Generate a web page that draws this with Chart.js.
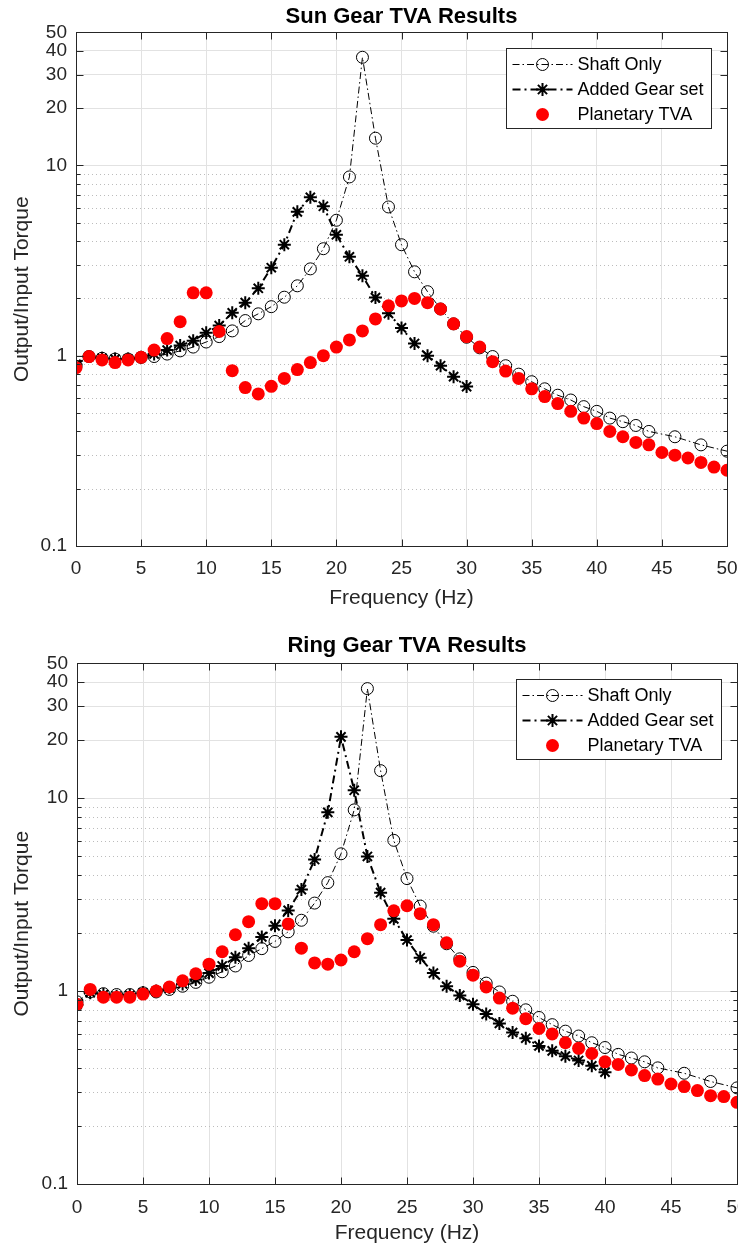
<!DOCTYPE html>
<html>
<head>
<meta charset="utf-8">
<script src="https://cdn.jsdelivr.net/npm/chart.js@4.4.1/dist/chart.umd.min.js"></script>
<style>
  html, body { margin: 0; padding: 0; background: #fff; overflow: hidden; width: 738px; height: 1247px; }
  canvas { position: absolute; left: 0; }
  #sunChart { top: 0; }
  #ringChart { top: 620px; }
</style>
</head>
<body>
<canvas id="sunChart" width="760" height="620"></canvas>
<canvas id="ringChart" width="760" height="627"></canvas>
<script>
// frequencies (Hz)
const shaftFreq = [0,1,2,3,4,5,6,7,8,9,10,11,12,13,14,15,16,17,18,19,20,21,22,23,24,25,26,27,28,29,
  30,31,32,33,34,35,36,37,38,39,40,41,42,43,44,46,48,50];
const planetaryFreq = [0,1,2,3,4,5,6,7,8,9,10,11,12,13,14,15,16,17,18,19,20,21,22,23,24,25,26,27,28,29,
  30,31,32,33,34,35,36,37,38,39,40,41,42,43,44,45,46,47,48,49,50];
const sunAddedFreq = [0,1,2,3,4,5,6,7,8,9,10,11,12,13,14,15,16,17,18,19,20,21,22,23,24,25,26,27,28,29,30];
const ringAddedFreq = [0,1,2,3,4,5,6,7,8,9,10,11,12,13,14,15,16,17,18,19,20,21,22,23,24,25,26,27,28,29,
  30,31,32,33,34,35,36,37,38,39,40];

// output/input torque
const shaftOnly = [0.88,0.99,0.97,0.96,0.96,0.98,0.99,1.02,1.06,1.11,
  1.18,1.26,1.35,1.53,1.66,1.81,2.03,2.33,2.86,3.65,
  5.15,8.7,37,13.9,6.05,3.83,2.76,2.17,1.76,1.47,
  1.25,1.10,0.99,0.886,0.80,0.73,0.67,0.62,0.585,0.54,
  0.51,0.47,0.45,0.43,0.40,0.375,0.34,0.315];
const sunAdded = [0.9,0.99,0.97,0.96,0.96,0.98,1.02,1.07,1.13,1.20,
  1.32,1.44,1.68,1.9,2.26,2.9,3.83,5.7,6.8,6.1,
  4.32,3.31,2.63,2.02,1.67,1.40,1.16,1.0,0.886,0.776,0.688];
const sunPlanetary = [0.865,0.99,0.95,0.92,0.95,0.98,1.07,1.23,1.51,2.14,
  2.14,1.34,0.834,0.68,0.63,0.69,0.76,0.845,0.92,1.0,
  1.11,1.21,1.35,1.56,1.83,1.94,2.0,1.9,1.76,1.47,
  1.26,1.11,0.93,0.83,0.76,0.67,0.61,0.56,0.51,0.47,
  0.44,0.40,0.375,0.35,0.34,0.31,0.30,0.29,0.275,0.26,0.25];
const ringAdded = [0.85,0.98,0.96,0.94,0.95,0.98,1.0,1.04,1.09,1.15,
  1.24,1.35,1.50,1.67,1.91,2.18,2.62,3.36,4.81,8.45,
  20.8,11.0,4.99,3.24,2.37,1.84,1.49,1.24,1.06,0.95,
  0.855,0.76,0.68,0.61,0.57,0.52,0.49,0.46,0.437,0.41,0.38];
const ringPlanetary = [0.855,1.02,0.93,0.93,0.93,0.965,1.0,1.05,1.13,1.23,
  1.38,1.6,1.96,2.29,2.84,2.84,2.23,1.67,1.40,1.38,
  1.45,1.6,1.87,2.21,2.61,2.77,2.52,2.21,1.78,1.43,
  1.21,1.05,0.92,0.815,0.72,0.64,0.60,0.54,0.505,0.475,
  0.43,0.417,0.39,0.365,0.35,0.33,0.32,0.305,0.287,0.284,0.265];

const seriesNames = ['Shaft Only', 'Added Gear set', 'Planetary TVA'];
const xTicks = [0,5,10,15,20,25,30,35,40,45,50];
const yMajorTicks = [0.1,1,10,20,30,40,50];
const yTickLabels = ['0.1','1','10','20','30','40','50'];
const yMinorTicks = [0.2,0.3,0.4,0.5,0.6,0.7,0.8,0.9,2,3,4,5,6,7,8,9];

const FONT = "'Liberation Sans', Arial, Helvetica, sans-serif";
const AXIS = '#262626';

function toPoints(xs, ys) {
  return xs.map((x, i) => ({ x: x, y: ys[i] }));
}

// matlab-ish box, inward ticks, minor grid and legend inside the axes
const matlabAxes = {
  id: 'matlabAxes',
  beforeDatasetsDraw(chart) {
    const { ctx, chartArea: a, scales: { y } } = chart;
    ctx.save();
    ctx.strokeStyle = '#bcbcbc';
    ctx.lineWidth = 1;
    ctx.setLineDash([1, 3]);
    yMinorTicks.forEach(v => {
      const py = Math.round(y.getPixelForValue(v)) + 0.5;
      ctx.beginPath();
      ctx.moveTo(a.left, py);
      ctx.lineTo(a.right, py);
      ctx.stroke();
    });
    ctx.restore();
  },
  afterDraw(chart) {
    const { ctx, chartArea: a, scales: { x, y } } = chart;
    ctx.save();
    ctx.strokeStyle = AXIS;
    ctx.lineWidth = 1;
    ctx.setLineDash([]);
    const L = Math.round(a.left) + 0.5, R = Math.round(a.right) + 0.5;
    const T = Math.round(a.top) + 0.5, B = Math.round(a.bottom) + 0.5;
    ctx.strokeRect(L, T, R - L, B - T);
    ctx.beginPath();
    xTicks.forEach(v => {
      const px = Math.round(x.getPixelForValue(v)) + 0.5;
      ctx.moveTo(px, B); ctx.lineTo(px, B - 7);
      ctx.moveTo(px, T); ctx.lineTo(px, T + 7);
    });
    yMajorTicks.forEach(v => {
      const py = Math.round(y.getPixelForValue(v)) + 0.5;
      ctx.moveTo(L, py); ctx.lineTo(L + 7, py);
      ctx.moveTo(R, py); ctx.lineTo(R - 7, py);
    });
    yMinorTicks.forEach(v => {
      const py = Math.round(y.getPixelForValue(v)) + 0.5;
      ctx.moveTo(L, py); ctx.lineTo(L + 4, py);
      ctx.moveTo(R, py); ctx.lineTo(R - 4, py);
    });
    ctx.stroke();

    // legend
    const w = 205, h = 80;
    const bx = Math.round(a.right - 16 - w) + 0.5, by = Math.round(a.top + 16) + 0.5;
    ctx.fillStyle = '#fff';
    ctx.fillRect(bx, by, w, h);
    ctx.strokeStyle = AXIS;
    ctx.strokeRect(bx, by, w, h);
    ctx.font = '18px ' + FONT;
    ctx.textBaseline = 'middle';
    ctx.textAlign = 'left';
    chart.data.datasets.forEach((ds, i) => {
      const ry = by + 16 + i * 25;
      if (ds.showLine !== false) {
        ctx.strokeStyle = ds.borderColor;
        ctx.lineWidth = ds.borderWidth;
        ctx.setLineDash(ds.borderDash || []);
        ctx.beginPath();
        ctx.moveTo(bx + 6, ry);
        ctx.lineTo(bx + 66, ry);
        ctx.stroke();
      }
      ctx.setLineDash([]);
      ctx.fillStyle = ds.pointBackgroundColor;
      ctx.strokeStyle = ds.pointBorderColor;
      ctx.lineWidth = ds.pointBorderWidth;
      Chart.helpers.drawPoint(ctx, { pointStyle: ds.pointStyle, radius: ds.pointRadius, borderWidth: ds.pointBorderWidth, rotation: 0 }, bx + 36, ry);
      ctx.fillStyle = '#000';
      ctx.fillText(ds.label, bx + 71, ry + 1);
    });
    ctx.restore();
  }
};

function buildChart(id, titleText, addedFreq, addedVals, planetaryVals, lay) {
  return new Chart(document.getElementById(id), {
    type: 'line',
    data: {
      datasets: [
        {
          label: seriesNames[0], data: toPoints(shaftFreq, shaftOnly), order: 2,
          borderColor: '#000', borderWidth: 1, borderDash: [7, 3, 1.5, 3], fill: false, tension: 0,
          pointStyle: 'circle', pointRadius: 6, pointBorderWidth: 1,
          pointBackgroundColor: 'rgba(0,0,0,0)', pointBorderColor: '#000'
        },
        {
          label: seriesNames[1], data: toPoints(addedFreq, addedVals), order: 1,
          borderColor: '#000', borderWidth: 2, borderDash: [8, 4, 2, 4], fill: false, tension: 0,
          pointStyle: 'star', pointRadius: 6.5, pointBorderWidth: 2,
          pointBackgroundColor: '#000', pointBorderColor: '#000'
        },
        {
          label: seriesNames[2], data: toPoints(planetaryFreq, planetaryVals), order: 0,
          showLine: false, borderColor: '#ff0000',
          pointStyle: 'circle', pointRadius: 6.5, pointBorderWidth: 0,
          pointBackgroundColor: '#ff0000', pointBorderColor: '#ff0000'
        }
      ]
    },
    options: {
      responsive: false,
      animation: false,
      events: [],
      layout: { padding: { left: 0, right: lay.padRight, top: 0, bottom: 0 } },
      plugins: {
        legend: { display: false },
        tooltip: { enabled: false },
        title: {
          display: true, fullSize: false, text: titleText, color: '#000',
          font: { family: FONT, size: 22, weight: 'bold' },
          padding: { top: lay.titleTop, bottom: lay.titleBottom }
        }
      },
      scales: {
        x: {
          type: 'linear', min: 0, max: 50,
          afterBuildTicks: s => { s.ticks = xTicks.map(v => ({ value: v })); },
          afterFit: s => { s.height = lay.xHeight; },
          grid: { color: '#e2e2e2', drawTicks: false, tickLength: 0 },
          border: { display: false },
          ticks: { color: AXIS, padding: lay.xTickPad, maxRotation: 0, autoSkip: false, font: { family: FONT, size: 19 } },
          title: {
            display: true, text: 'Frequency (Hz)', color: AXIS,
            font: { family: FONT, size: 21 }, padding: { top: 0, bottom: lay.xTitlePad }
          }
        },
        y: {
          type: 'logarithmic', min: 0.1, max: 50,
          afterBuildTicks: s => { s.ticks = yMajorTicks.map(v => ({ value: v })); },
          afterFit: s => { s.width = lay.yWidth; },
          grid: { color: '#e2e2e2', drawTicks: false, tickLength: 0 },
          border: { display: false },
          ticks: {
            color: AXIS, padding: 9, autoSkip: false, font: { family: FONT, size: 19 },
            callback: (v, i) => yTickLabels[i]
          },
          title: {
            display: true, text: 'Output/Input Torque', color: AXIS,
            font: { family: FONT, size: 21 }, padding: { top: 10, bottom: 0 }
          }
        }
      }
    },
    plugins: [matlabAxes]
  });
}

buildChart('sunChart', 'Sun Gear TVA Results', sunAddedFreq, sunAdded, sunPlanetary,
  { padRight: 33, titleTop: 4, titleBottom: 2, xHeight: 74, xTickPad: 11, xTitlePad: 9, yWidth: 76 });
buildChart('ringChart', 'Ring Gear TVA Results', ringAddedFreq, ringAdded, ringPlanetary,
  { padRight: 23, titleTop: 13, titleBottom: 4, xHeight: 63, xTickPad: 12, xTitlePad: 1, yWidth: 77 });
</script>
</body>
</html>
